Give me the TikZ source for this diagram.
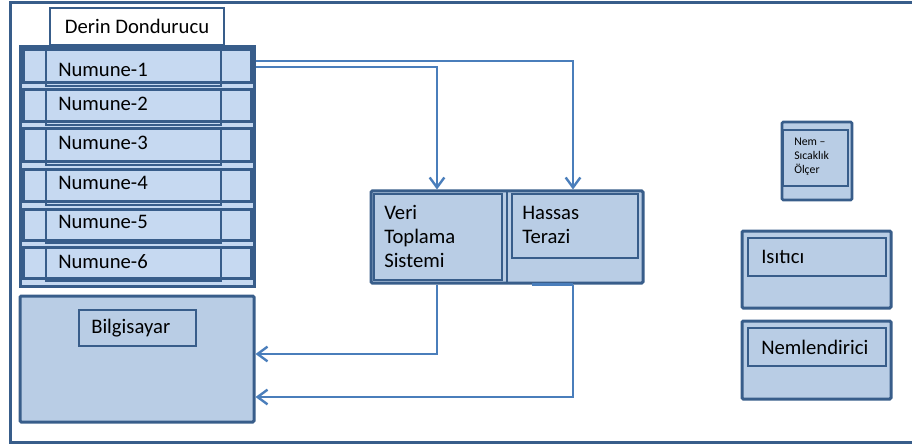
\documentclass[tikz,border=0pt]{standalone}
\usepackage{fontspec}
\setmainfont{Carlito}
\usetikzlibrary{fit,calc,arrows.meta}
\definecolor{bdr}{HTML}{385D8A}
\definecolor{rowfill}{HTML}{C6D9F1}
\definecolor{boxfill}{HTML}{B9CDE5}
\definecolor{arrc}{HTML}{4A7EBB}
\begin{document}
\begin{tikzpicture}[x=0.75pt,y=-0.75pt,
  thickbox/.style={draw=bdr, line width=2.25pt, inner sep=0pt, fill=boxfill, rounded corners=1pt},
  rowbox/.style={draw=bdr, line width=2.25pt, inner sep=0pt, fill=rowfill},
  thinbox/.style={draw=bdr, line width=0.9pt, inner sep=0pt},
  lbl/.style={font=\fontsize{15.5}{18}\selectfont, inner sep=0pt, text=black},
  small/.style={font=\fontsize{8.8}{10.5}\selectfont, inner sep=0pt, text=black, align=left},
  arr/.style={draw=arrc, line width=1.8pt, -{Straight Barb[length=7.5pt,width=11pt,line width=1.8pt]}},
  link/.style={draw=arrc, line width=1.8pt}
]
\useasboundingbox (0,0) rectangle (912,445);
% outer frame (open on the right)
\draw[bdr, line width=2.25pt] (915,3) -- (10,3) -- (10,442) -- (915,442);

% Derin Dondurucu
\node[draw=bdr, line width=0.9pt, fill=white, inner sep=0pt, fit={(50,8) (224,45)}] (dd) {};
\node[lbl] (ddt) at (dd.center) {Derin Dondurucu};

% sample stack
\node[rowbox, fit={(20,47) (254,286)}] (stack) {};
\foreach \i/\t/\b/\ty in {1/50/83/70, 2/90/122/104, 3/129/162/143, 4/170/202/183, 5/209/240/222, 6/247/278/262}{
  \node[rowbox, fit={(23,\t) (251,\b)}] (row\i) {};
  \node[thinbox, fit={(46,\t) (221,\b+3)}] (in\i) {};
  \node[lbl, anchor=west] (nt\i) at (58,\ty) {Numune-\i};
}

% Bilgisayar
\node[thickbox, fit={(20,296) (254,422)}] (pc) {};
\node[thinbox, fit={(79,310) (196,346)}] (pcin) {};
\node[lbl, anchor=west] (pct) at (91,328) {Bilgisayar};

% Veri Toplama / Hassas Terazi
\node[thickbox, fit={(371,191) (643,283)}] (dev) {};
\node[thinbox, fit={(374,194) (502,280)}] (vts) {};
\draw[bdr, line width=0.9pt] (507,192) -- (507,282);
\node[thinbox, fit={(512,194) (638,258)}] (ht) {};
\node[lbl, anchor=west, align=left] (vtst) at (384,236) {Veri\\Toplama\\Sistemi};
\node[lbl, anchor=west, align=left] (htt) at (522,225) {Hassas\\Terazi};

% right side devices
\node[thickbox, line width=2pt, fit={(782,122) (852,200)}] (nem) {};
\node[thinbox, fit={(783,130) (848,186)}] (nemin) {};
\node[small, anchor=west] (nemt) at (794,157) {Nem –\\Sıcaklık\\Ölçer};

\node[thickbox, fit={(742,231) (891,308)}] (isi) {};
\node[thinbox, fit={(748,238) (886,276)}] (isiin) {};
\node[lbl, anchor=west] (isit) at (761,257) {Isıtıcı};

\node[thickbox, fit={(742,321) (891,399)}] (neml) {};
\node[thinbox, fit={(748,328) (886,366)}] (nemlin) {};
\node[lbl, anchor=west] (nemlt) at (761,347) {Nemlendirici};

% connectors
\coordinate (c1) at (573,61);
\coordinate (c2) at (437,67);
\coordinate (c3) at (437,354);
\coordinate (c4) at (532,397);
\coordinate (c5) at (573,397);
\draw[arr] (stack.east |- c1) -| (c1 |- dev.north);
\draw[arr] (stack.east |- c2) -| (c2 |- dev.north);
\draw[arr] (c2 |- dev.south) |- (pc.east |- c3);
\draw[link] (c4 |- dev.south) -- (c5 |- dev.south);
\draw[arr] (c5 |- dev.south) |- (pc.east |- c5);
\end{tikzpicture}
\end{document}
